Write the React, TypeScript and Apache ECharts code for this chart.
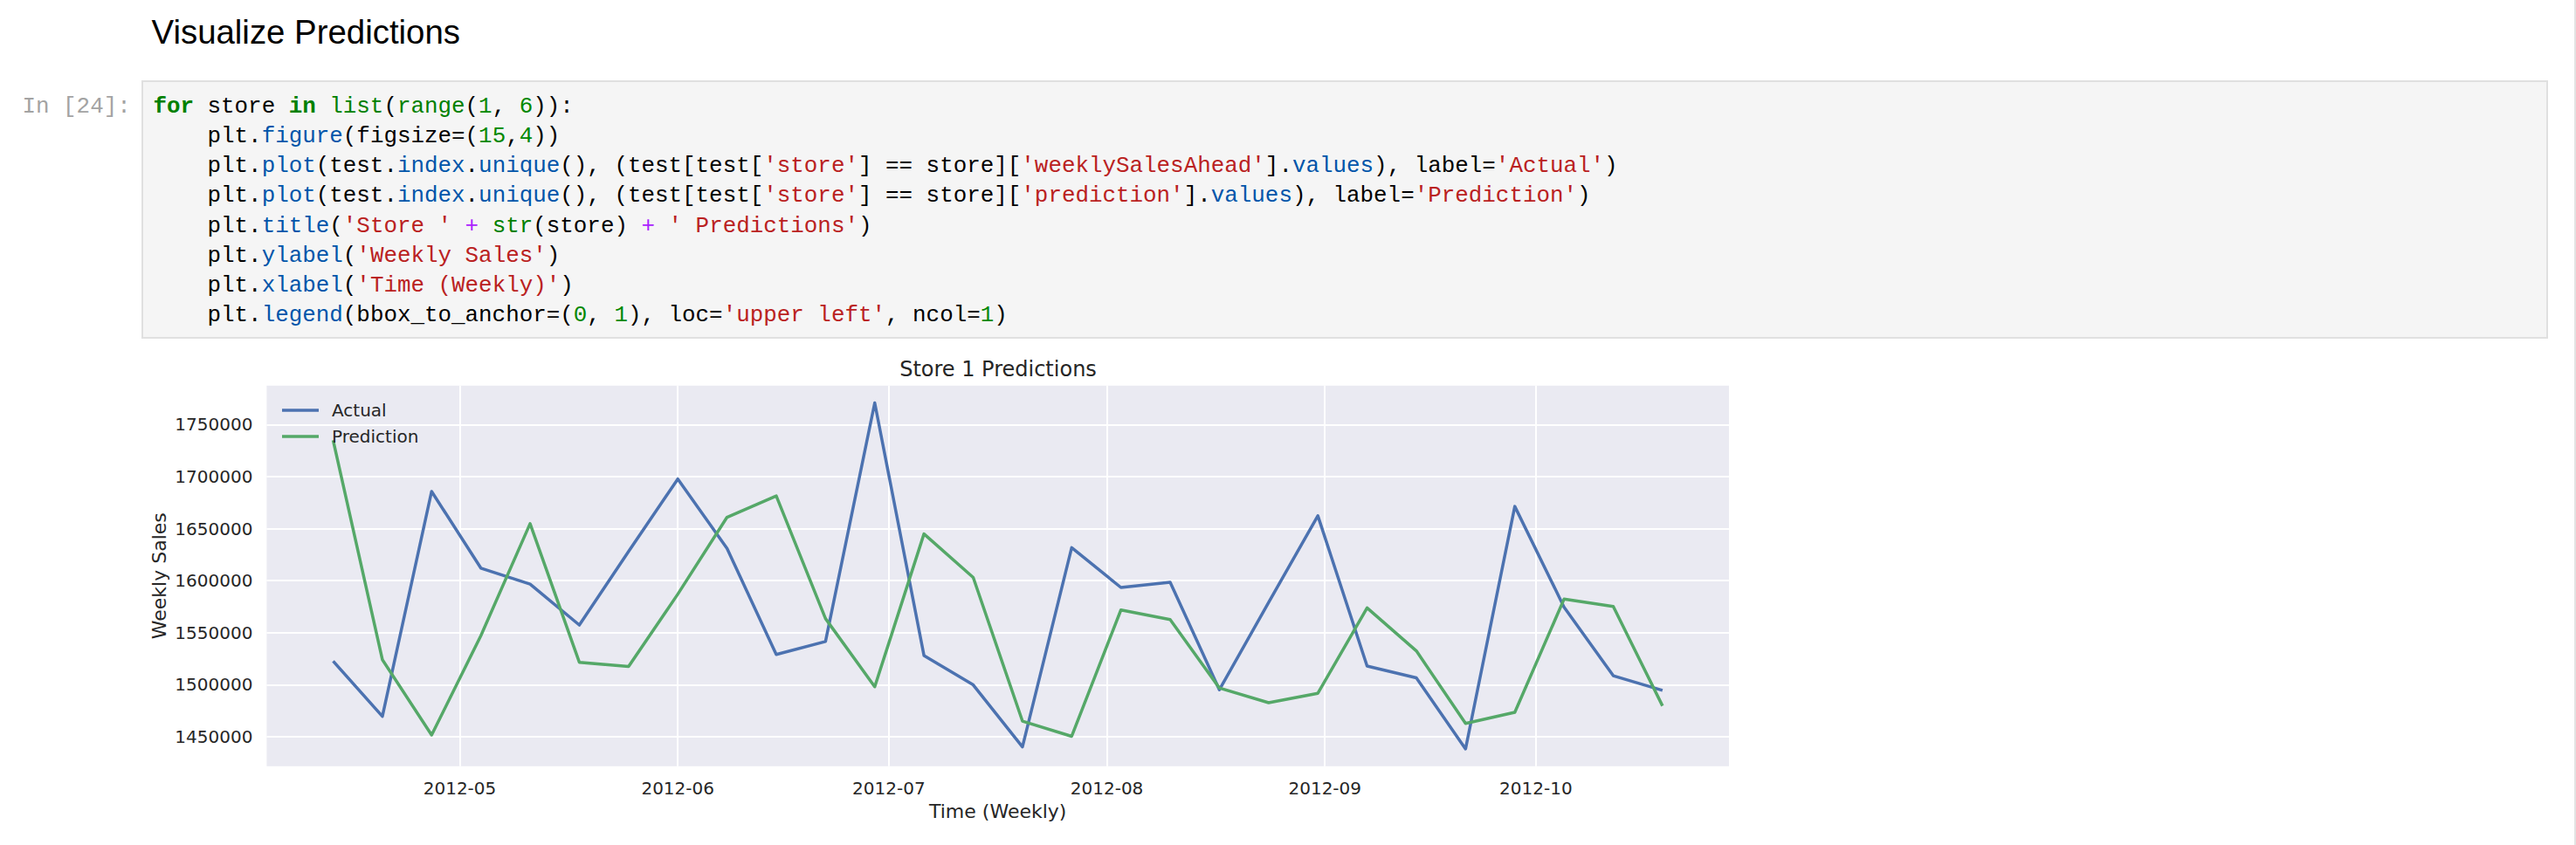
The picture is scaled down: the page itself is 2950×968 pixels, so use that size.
import React, { useEffect, useRef } from 'react';
import * as echarts from 'echarts';

// ---- data ----
const weekDates = [
  '2012-04-13', '2012-04-20', '2012-04-27', '2012-05-04', '2012-05-11', '2012-05-18', '2012-05-25',
  '2012-06-01', '2012-06-08', '2012-06-15', '2012-06-22', '2012-06-29', '2012-07-06', '2012-07-13',
  '2012-07-20', '2012-07-27', '2012-08-03', '2012-08-10', '2012-08-17', '2012-08-24', '2012-08-31',
  '2012-09-07', '2012-09-14', '2012-09-21', '2012-09-28', '2012-10-05', '2012-10-12', '2012-10-19',
];
const actualSales = [
  1522600, 1469500, 1685700, 1612000, 1596600, 1557300, 1628000,
  1697700, 1631000, 1529000, 1541500, 1770800, 1528000, 1499800,
  1440200, 1631700, 1593400, 1598500, 1495100, 1579000, 1662300,
  1517900, 1506600, 1438300, 1671300, 1574600, 1508600, 1494500,
];
const predictedSales = [
  1734800, 1524000, 1451600, 1547000, 1654700, 1521500, 1517400,
  1587000, 1660900, 1681400, 1563500, 1498000, 1644900, 1603000,
  1465000, 1450400, 1571800, 1562600, 1496800, 1482700, 1491700,
  1573800, 1532500, 1462700, 1473400, 1582200, 1575200, 1479600,
];
const monthTicks = ['2012-05-01', '2012-06-01', '2012-07-01', '2012-08-01', '2012-09-01', '2012-10-01'];
const salesTicks = [1450000, 1500000, 1550000, 1600000, 1650000, 1700000, 1750000];
const seriesNames = ['Actual', 'Prediction'];
const seriesColors = ['#4C72B0', '#55A868'];

const headingText = 'Visualize Predictions';
const promptText = 'In [24]:';
const chartTitle = 'Store 1 Predictions';
const yAxisName = 'Weekly Sales';
const xAxisName = 'Time (Weekly)';

const codeSource = [
  "{kw|for} store {kw|in} {bi|list}({bi|range}({num|1}, {num|6})):",
  "    plt.{prop|figure}(figsize=({num|15},{num|4}))",
  "    plt.{prop|plot}(test.{prop|index}.{prop|unique}(), (test[test[{str|'store'}] == store][{str|'weeklySalesAhead'}].{prop|values}), label={str|'Actual'})",
  "    plt.{prop|plot}(test.{prop|index}.{prop|unique}(), (test[test[{str|'store'}] == store][{str|'prediction'}].{prop|values}), label={str|'Prediction'})",
  "    plt.{prop|title}({str|'Store '} {op|+} {bi|str}(store) {op|+} {str|' Predictions'})",
  "    plt.{prop|ylabel}({str|'Weekly Sales'})",
  "    plt.{prop|xlabel}({str|'Time (Weekly)'})",
  "    plt.{prop|legend}(bbox_to_anchor=({num|0}, {num|1}), loc={str|'upper left'}, ncol={num|1})",
];

const codeStyles: Record<string, { color: string; weight: string }> = {
  p: { color: '#000000', weight: 'normal' },
  kw: { color: '#008000', weight: 'bold' },
  bi: { color: '#008000', weight: 'normal' },
  num: { color: '#008800', weight: 'normal' },
  str: { color: '#BA2121', weight: 'normal' },
  prop: { color: '#0055AA', weight: 'normal' },
  op: { color: '#AA22FF', weight: 'normal' },
};

const CODE_FONT = '"Liberation Mono", "DejaVu Sans Mono", monospace';
const CHAR_W = 15.53;
const CODE_FS = 25.88;
const CODE_X0 = 175.4;
const CODE_Y0 = 122.3;
const CODE_LH = 34.05;

function parseLine(src: string) {
  const segs: { text: string; style: string }[] = [];
  const re = /\{(\w+)\|([^}]*)\}/g;
  let last = 0;
  let m: RegExpExecArray | null;
  while ((m = re.exec(src)) !== null) {
    if (m.index > last) segs.push({ text: src.slice(last, m.index), style: 'p' });
    segs.push({ text: m[2], style: m[1] });
    last = m.index + m[0].length;
  }
  if (last < src.length) segs.push({ text: src.slice(last), style: 'p' });
  return segs;
}

function buildCodeGraphics() {
  const els: any[] = [];
  codeSource.forEach((src, li) => {
    const segs = parseLine(src);
    let col = 0;
    segs.forEach((seg) => {
      const runRe = /\S+/g;
      let r: RegExpExecArray | null;
      while ((r = runRe.exec(seg.text)) !== null) {
        const st = codeStyles[seg.style] || codeStyles.p;
        els.push({
          type: 'text',
          x: CODE_X0 + (col + r.index) * CHAR_W,
          y: CODE_Y0 + li * CODE_LH,
          silent: true,
          style: {
            text: r[0],
            fill: st.color,
            fontFamily: CODE_FONT,
            fontSize: CODE_FS,
            fontWeight: st.weight,
            align: 'left',
            verticalAlign: 'middle',
            textAlign: 'left',
            textVerticalAlign: 'middle',
          },
        });
      }
      col += seg.text.length;
    });
  });
  return els;
}

export default function App() {
  const ref = useRef<HTMLDivElement>(null);

  useEffect(() => {
    if (!ref.current) return;
    const chart = echarts.init(ref.current, null, { renderer: 'svg' });

    const times = weekDates.map((d) => Date.parse(d));
    const tMin = times[0];
    const tMax = times[times.length - 1];
    const tPad = (tMax - tMin) * 0.05;
    const allVals = actualSales.concat(predictedSales);
    const vMin = Math.min(...allVals);
    const vMax = Math.max(...allVals);
    const vPad = (vMax - vMin) * 0.05;

    const chartFont = '"DejaVu Sans", sans-serif';
    const textColor = '#262626';

    const graphics: any[] = [
      {
        type: 'text',
        x: 173.5,
        y: 36.8,
        silent: true,
        style: {
          text: headingText,
          fill: '#000000',
          fontFamily: '"Liberation Sans", Arial, sans-serif',
          fontSize: 38.4,
          align: 'left',
          verticalAlign: 'middle',
          textAlign: 'left',
          textVerticalAlign: 'middle',
        },
      },
      {
        type: 'rect',
        silent: true,
        shape: { x: 163, y: 93, width: 2754, height: 294 },
        style: { fill: '#f5f5f5', stroke: '#e0e0e0', lineWidth: 2 },
      },
      {
        type: 'line',
        silent: true,
        shape: { x1: 2949, y1: 0, x2: 2949, y2: 968 },
        style: { stroke: '#e3e3e3', lineWidth: 2 },
      },
      {
        type: 'text',
        x: 25.5,
        y: CODE_Y0,
        silent: true,
        style: {
          text: promptText,
          fill: '#a3a3a3',
          fontFamily: CODE_FONT,
          fontSize: CODE_FS,
          align: 'left',
          verticalAlign: 'middle',
          textAlign: 'left',
          textVerticalAlign: 'middle',
        },
      },
      ...buildCodeGraphics(),
    ];

    const option: any = {
      animation: false,
      backgroundColor: '#ffffff',
      title: {
        text: chartTitle,
        left: 1143,
        top: 411,
        padding: 0,
        textAlign: 'center',
        textStyle: { fontFamily: chartFont, fontSize: 24, fontWeight: 'normal', color: textColor },
      },
      legend: {
        data: seriesNames.map((n) => ({ name: n, icon: 'rect' })),
        orient: 'vertical',
        left: 323,
        top: 460,
        padding: 0,
        itemWidth: 42,
        itemHeight: 3.5,
        itemGap: 10,
        selectedMode: false,
        textStyle: {
          fontFamily: chartFont,
          fontSize: 20,
          color: textColor,
          lineHeight: 20,
          padding: [0, 0, 0, 10],
        },
      },
      grid: {
        left: 305.4,
        right: 970,
        top: 441.7,
        bottom: 90.3,
        show: true,
        backgroundColor: '#EAEAF2',
        borderWidth: 0,
        containLabel: false,
        outerBoundsMode: 'none',
      },
      xAxis: {
        type: 'value',
        min: tMin - tPad,
        max: tMax + tPad,
        name: xAxisName,
        nameLocation: 'middle',
        nameGap: 41,
        nameMoveOverlap: false,
        nameTextStyle: { fontFamily: chartFont, fontSize: 22, color: textColor },
        axisLine: { show: false },
        axisTick: { show: false, customValues: monthTicks.map((d) => Date.parse(d)) },
        axisLabel: {
          customValues: monthTicks.map((d) => Date.parse(d)),
          formatter: (v: number) => new Date(v).toISOString().slice(0, 7),
          fontFamily: chartFont,
          fontSize: 20,
          color: textColor,
          margin: 15,
        },
        splitLine: { show: true, lineStyle: { color: '#ffffff', width: 2 } },
      },
      yAxis: {
        type: 'value',
        min: vMin - vPad,
        max: vMax + vPad,
        name: yAxisName,
        nameLocation: 'middle',
        nameGap: 112,
        nameMoveOverlap: false,
        nameTextStyle: { fontFamily: chartFont, fontSize: 22, color: textColor },
        axisLine: { show: false },
        axisTick: { show: false, customValues: salesTicks },
        axisLabel: {
          customValues: salesTicks,
          formatter: (v: number) => String(Math.round(v)),
          fontFamily: chartFont,
          fontSize: 20,
          color: textColor,
          margin: 16,
        },
        splitLine: { show: true, lineStyle: { color: '#ffffff', width: 2 } },
      },
      series: [
        {
          name: seriesNames[0],
          type: 'line',
          color: seriesColors[0],
          data: times.map((t, i) => [t, actualSales[i]]),
          showSymbol: false,
          symbol: 'none',
          lineStyle: { width: 3.5, color: seriesColors[0], join: 'round' },
          emphasis: { disabled: true },
        },
        {
          name: seriesNames[1],
          type: 'line',
          color: seriesColors[1],
          data: times.map((t, i) => [t, predictedSales[i]]),
          showSymbol: false,
          symbol: 'none',
          lineStyle: { width: 3.5, color: seriesColors[1], join: 'round' },
          emphasis: { disabled: true },
        },
      ],
      graphic: { elements: graphics },
    };

    chart.setOption(option);
    return () => chart.dispose();
  }, []);

  return (
    <div
      ref={ref}
      style={{ position: 'absolute', left: 0, top: 0, width: 2950, height: 968, background: '#ffffff' }}
    />
  );
}
